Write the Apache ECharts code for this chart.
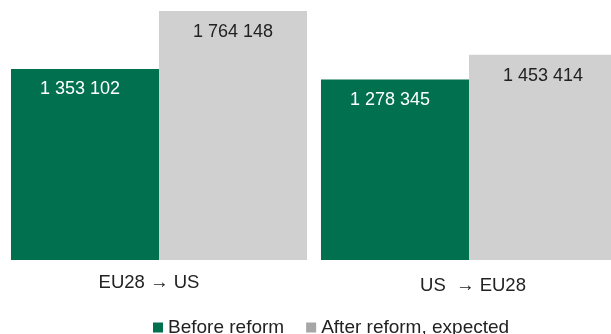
<!DOCTYPE html>
<html>
<head>
<meta charset="utf-8">
<script src="https://cdn.jsdelivr.net/npm/echarts@6/dist/echarts.min.js"></script>
<style>
  html, body { margin: 0; padding: 0; background: #fff; }
  #chart { width: 611px; height: 334px; }
</style>
</head>
<body>
<div id="chart"></div>
<script>
// data
const categories = ["EU28 → US", "US  → EU28"];
const seriesNames = ["Before reform", "After reform, expected"];
const beforeReform = [1353102, 1278345];
const afterReform = [1764148, 1453414];

const green = "#00704f";
const lightGrey = "#cfd0cf";

const fmt = (v) => String(v).replace(/\B(?=(\d{3})+(?!\d))/g, " ");

const chart = echarts.init(document.getElementById("chart"));

const options = {
  animation: false,
  textStyle: { fontFamily: "Liberation Sans, Arial, sans-serif" },
  grid: {
    left: 4,
    width: 620,
    top: 11,
    bottom: 74,
    outerBoundsMode: "none",
    containLabel: false,
  },
  legend: {
    left: 153,
    top: 318,
    padding: 0,
    itemWidth: 10,
    itemHeight: 10,
    itemGap: 22,
    icon: "rect",
    textStyle: { fontSize: 19, color: "#222" },
    data: [
      { name: seriesNames[0], itemStyle: { color: green } },
      { name: seriesNames[1], itemStyle: { color: "#a6a6a6" } },
    ],
  },
  xAxis: {
    type: "category",
    data: categories,
    axisLine: { show: false },
    axisTick: { show: false },
    axisLabel: {
      margin: 13,
      formatter: (v, i) => (i === 0 ? "{a|" + v + "}" : "{b|" + v + "}"),
      rich: {
        a: { fontSize: 18.5, color: "#222", padding: [0, 20, 0, 0] },
        b: { fontSize: 18.5, color: "#222", padding: [3, 0, 0, 8] },
      },
    },
  },
  yAxis: {
    type: "value",
    min: 0,
    max: "dataMax",
    show: false,
    splitLine: { show: false },
  },
  series: [
    {
      name: seriesNames[0],
      type: "bar",
      data: beforeReform,
      barGap: "0%",
      barCategoryGap: "4.5%",
      itemStyle: { color: green },
      label: {
        show: true,
        position: "insideTop",
        distance: 11,
        offset: [-5, 0],
        fontSize: 18,
        color: "#fff",
        formatter: (p) => fmt(p.value),
      },
    },
    {
      name: seriesNames[1],
      type: "bar",
      data: afterReform,
      itemStyle: { color: lightGrey },
      label: {
        show: true,
        position: "insideTop",
        distance: 12,
        fontSize: 18,
        color: "#222",
        formatter: (p) => fmt(p.value),
      },
    },
  ],
};

chart.setOption(options);

window.addEventListener("resize", () => {
  chart.resize();
});
</script>
</body>
</html>
